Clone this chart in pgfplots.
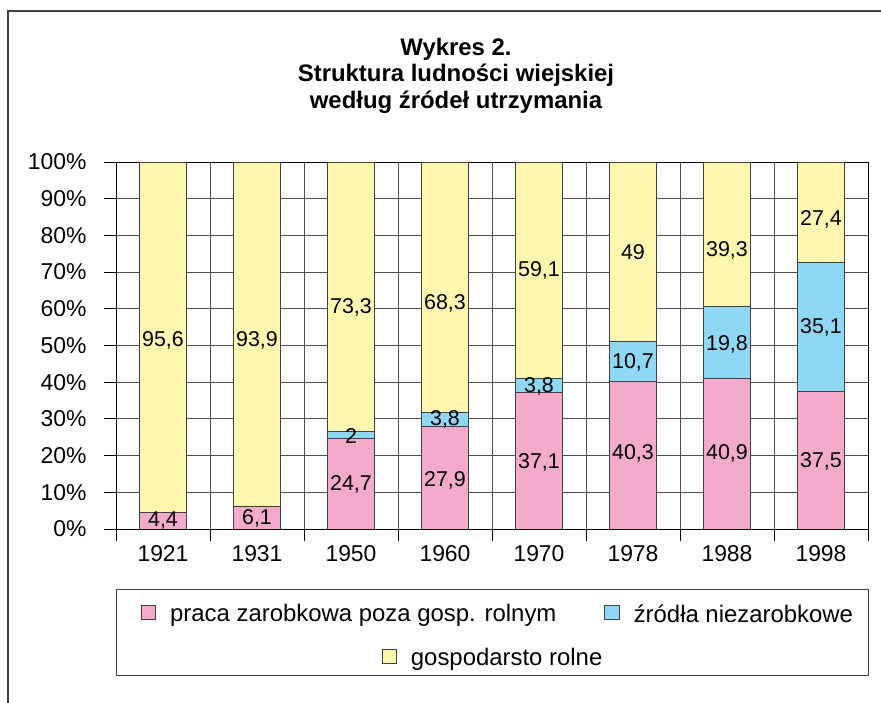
\documentclass[border=0pt]{standalone}
\usepackage{pgfplots}
\usepackage{pgfplotstable}
\pgfplotsset{compat=1.18}
\usepackage{fontspec}
\setmainfont{Liberation Sans}
\definecolor{cpink}{HTML}{F3AACB}
\definecolor{cblue}{HTML}{8ED7F5}
\definecolor{cyellow}{HTML}{FFF7B0}
\definecolor{edge}{HTML}{404040}
\definecolor{gridc}{HTML}{505050}

\pgfplotstableread{
x pink blue yellow
0 4.4 0 95.6
1 6.1 0 93.9
2 24.7 2 73.3
3 27.9 3.8 68.3
4 37.1 3.8 59.1
5 40.3 10.7 49
6 40.9 19.8 39.3
7 37.5 35.1 27.4
}\datatable

\pgfplotstableread{
x y label
0 2.4 {4,4}
0 51.5 {95,6}
1 2.8 {6,1}
1 51.5 {93,9}
2 12.2 {24,7}
2 25.3 {2}
2 60.5 {73,3}
3 13.2 {27,9}
3 29.8 {3,8}
3 61.6 {68,3}
4 18.2 {37,1}
4 38.8 {3,8}
4 70.6 {59,1}
5 20.5 {40,3}
5 45.4 {10,7}
5 75.5 {49}
6 20.6 {40,9}
6 50.3 {19,8}
6 76.0 {39,3}
7 18.5 {37,5}
7 55.0 {35,1}
7 84.3 {27,4}
}\labeltable

\pgfplotsset{
  base/.style={width=752bp, height=367bp, scale only axis,
    xmin=-0.5, xmax=7.5, ymin=0, ymax=100,
    at={(116bp,174bp)}, anchor=south west,
    /pgf/number format/assume math mode=true},
  sq/.style={legend image code/.code={\draw[##1] (0bp,-5.5bp) rectangle (14.5bp,9bp);}},
}

\begin{document}
\begin{tikzpicture}
\useasboundingbox (0,0) rectangle (881bp,703bp);
\draw[line width=1.2pt, edge] (8bp,0bp) -- (8bp,692bp) -- (881bp,692bp);
\node[align=center, inner sep=0pt, font=\fontsize{24}{26.5}\selectfont\bfseries]
  at (456bp,627.5bp) {Wykres 2.\\Struktura ludności wiejskiej\\według źródeł utrzymania};

\begin{axis}[base, ybar stacked, bar width=47bp,
  axis line style={draw=black, line width=0.8pt},
  ytick={0,10,...,100},
  yticklabel={\pgfmathprintnumber{\tick}\%},
  yticklabel style={font=\fontsize{23}{26}\selectfont, xshift=-14bp},
  xtick={-0.5,0.5,...,7.5}, xticklabels={},
  xmajorgrids, ymajorgrids,
  major grid style={draw=gridc, line width=0.8pt},
  tick style={draw=black, line width=0.8pt},
  tick align=outside, major tick length=12bp,
  xtick pos=lower, ytick pos=left,
  legend columns=2,
  legend style={draw=none, fill=none, at={(0.5066,-0.2316)}, anchor=center,
    font=\fontsize{24}{28}\selectfont, nodes={inner sep=0pt},
    /tikz/every odd column/.append style={column sep=14bp},
    /tikz/every even column/.append style={column sep=48bp}},
  sq,
]
\addplot[fill=cpink, draw=edge, line width=0.8pt] table[x=x, y=pink] {\datatable};
\addplot[fill=cblue, draw=edge, line width=0.8pt] table[x=x, y=blue] {\datatable};
\addplot[fill=cyellow, draw=edge, line width=0.8pt] table[x=x, y=yellow] {\datatable};
\legend{praca zarobkowa poza gosp. rolnym, źródła niezarobkowe}
\end{axis}

\begin{axis}[base,
  axis line style={draw=none},
  ytick=\empty,
  xtick={0,...,7},
  xticklabels={1921,1931,1950,1960,1970,1978,1988,1998},
  xticklabel style={font=\fontsize{23}{26}\selectfont, yshift=-13bp},
  tick style={draw=none},
  legend style={draw=none, fill=none, at={(0.5,-0.3515)}, anchor=center,
    font=\fontsize{24}{28}\selectfont, nodes={inner sep=0pt},
    /tikz/every odd column/.append style={column sep=14bp}},
  sq,
]
\addplot[only marks, mark=none, forget plot, nodes near coords,
  point meta=explicit symbolic,
  nodes near coords align={center},
  every node near coord/.append style={font=\fontsize{21.5}{24}\selectfont, text=black, inner sep=0pt}]
  table[x=x, y=y, meta=label] {\labeltable};
\addlegendimage{fill=cyellow, draw=edge, line width=0.8pt}
\addlegendentry{gospodarsto rolne}
\end{axis}

\draw[line width=0.8pt, edge] (116bp,28bp) rectangle (868bp,114bp);
\end{tikzpicture}
\end{document}
